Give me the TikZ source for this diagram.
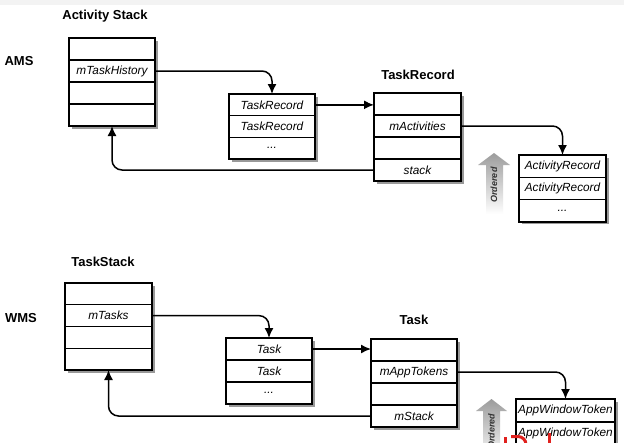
\documentclass[tikz,border=0pt]{standalone}
\usepackage{fontspec}
\setmainfont{Liberation Sans}
\usetikzlibrary{positioning,arrows.meta,shadows}
\definecolor{striptop}{HTML}{F3F3F3}
\definecolor{ordergray}{HTML}{9C9C9C}
\definecolor{markred}{HTML}{E0211E}
\tikzset{
	field/.style={draw, fill=white, line width=1.4pt, minimum width=86pt, minimum height=22pt,
		inner sep=0pt, outer sep=0pt, font=\fontsize{11.8}{12}\selectfont\itshape,
		drop shadow={shadow xshift=2.5pt, shadow yshift=-2.5pt, fill=black, opacity=0.4}},
	boxtitle/.style={font=\fontsize{13}{14}\selectfont\bfseries},
	link/.style={line width=1.5pt, rounded corners=10pt, -{Latex[length=10pt,width=9pt]}},
	ordered/.style={rotate=90, font=\fontsize{9}{10}\selectfont\bfseries\itshape, text=black!80},
}

\begin{document}
\begin{tikzpicture}[x=1pt,y=-1pt]
	% Fixed canvas, same size as the screenshot.
	\useasboundingbox (0,0) rectangle (624,442);
	\fill[white] (0,0) rectangle (624,442);
	\fill[striptop] (0,0) rectangle (624,5);

	% Side labels and titles.
	\node[boxtitle] (ams) at (19,61) {AMS};
	\node[boxtitle] (wms) at (21,318) {WMS};
	\node[boxtitle] (astitle) at (105,16) {Activity Stack};
	\node[boxtitle] (trtitle) at (418,75) {TaskRecord};
	\node[boxtitle] (tstitle) at (103,262) {TaskStack};
	\node[boxtitle] (tbtitle) at (414,320) {Task};

	% AMS: ActivityStack fields.
	\node[field, anchor=north west] (as1) at (69,38) {};
	\node[field, below=0pt of as1] (as2) {mTaskHistory};
	\node[field, below=0pt of as2] (as3) {};
	\node[field, below=0pt of as3] (as4) {};

	% AMS: list of task records.
	\node[field, anchor=north west, minimum height=21.7pt] (tl1) at (229,94) {TaskRecord};
	\node[field, below=0pt of tl1, minimum height=21.7pt] (tl2) {TaskRecord};
	\node[field, below=0pt of tl2, minimum height=21.7pt] (tl3) {...};

	% AMS: TaskRecord fields.
	\node[field, anchor=north west, minimum width=87pt] (tr1) at (374,93) {};
	\node[field, below=0pt of tr1, minimum width=87pt] (tr2) {mActivities};
	\node[field, below=0pt of tr2, minimum width=87pt] (tr3) {};
	\node[field, below=0pt of tr3, minimum width=87pt] (tr4) {stack};

	% AMS: list of activity records.
	\node[field, anchor=north west, minimum width=87pt, minimum height=22.3pt] (ar1) at (519,155) {ActivityRecord};
	\node[field, below=0pt of ar1, minimum width=87pt, minimum height=22.3pt] (ar2) {ActivityRecord};
	\node[field, below=0pt of ar2, minimum width=87pt, minimum height=22.3pt] (ar3) {...};

	% WMS: TaskStack fields.
	\node[field, anchor=north west, minimum width=87pt, minimum height=21.75pt] (ts1) at (65,283) {};
	\node[field, below=0pt of ts1, minimum width=87pt, minimum height=21.75pt] (ts2) {mTasks};
	\node[field, below=0pt of ts2, minimum width=87pt, minimum height=21.75pt] (ts3) {};
	\node[field, below=0pt of ts3, minimum width=87pt, minimum height=21.75pt] (ts4) {};

	% WMS: list of tasks.
	\node[field, anchor=north west] (tk1) at (226,338) {Task};
	\node[field, below=0pt of tk1] (tk2) {Task};
	\node[field, below=0pt of tk2] (tk3) {...};

	% WMS: Task fields.
	\node[field, anchor=north west] (tb1) at (371,339) {};
	\node[field, below=0pt of tb1] (tb2) {mAppTokens};
	\node[field, below=0pt of tb2] (tb3) {};
	\node[field, below=0pt of tb3] (tb4) {mStack};

	% WMS: list of window tokens (runs off the bottom edge).
	\node[field, anchor=north west, minimum width=99pt, minimum height=23pt] (aw1) at (516,399) {AppWindowToken};
	\node[field, below=0pt of aw1, minimum width=99pt, minimum height=23pt] (aw2) {AppWindowToken};

	% Links between the records.
	\draw[link] (as2.east) -| (tl1.north);
	\draw[link] (tl1.east) -- (tl1.east -| tr1.west);
	\draw[link] (tr2.east) -| (ar1.north);
	\draw[link] (tr4.west) -| (as4.south);
	\draw[link] (ts2.east) -| (tk1.north);
	\draw[link] (tk1.east) -- (tk1.east -| tb1.west);
	\draw[link] (tb2.east) -| (aw1.north);
	\draw[link] (tb4.west) -| (ts4.south);

	% Faded "Ordered" arrows.
	\shade[top color=ordergray, bottom color=white]
		(494,153) -- (510,165) -- (503,165) -- (503,214) -- (486,214) -- (486,165) -- (478,165) -- cycle;
	\node[ordered] (ord1) at (494,185) {Ordered};
	\shade[top color=ordergray, bottom color=white]
		(491.5,399) -- (507,411) -- (500,411) -- (500,462) -- (483,462) -- (483,411) -- (476,411) -- cycle;
	\node[ordered] (ord2) at (491.5,431) {Ordered};

	% Red mark cut by the lower edge.
	\draw[markred, line width=3pt] (505,443) -- (505,437);
	\draw[markred, line width=3pt] (511,436.5) -- (518,436.5) arc[start angle=270, end angle=360, radius=8];
	\draw[markred, line width=3pt] (549,433) -- (549,443);
\end{tikzpicture}
\end{document}
